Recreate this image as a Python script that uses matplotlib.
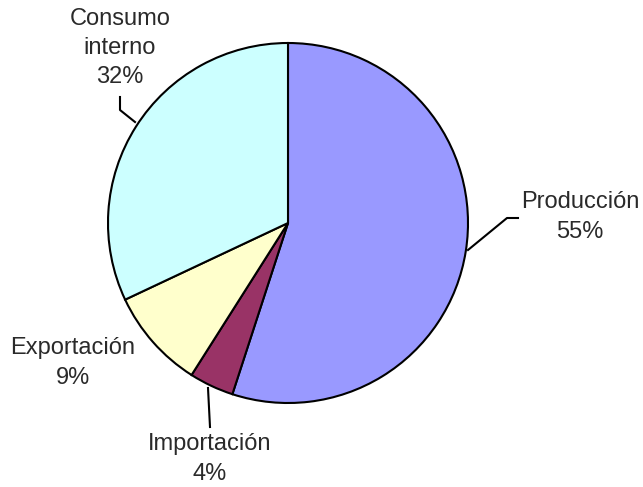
import matplotlib
matplotlib.use("Agg")
import matplotlib.pyplot as plt

labels = ["Producción", "Importación", "Exportación", "Consumo\ninterno"]
values = [55, 4, 9, 32]
colors = ["#9999FF", "#993366", "#FFFFCC", "#CCFFFF"]

W, H = 643, 487
fig = plt.figure(figsize=(W / 100, H / 100), dpi=100)
ax = fig.add_axes([0, 0, 1, 1])

cx, cy, r = 288, H - 223, 180
ax.pie(values, colors=colors, startangle=90, counterclock=False,
       center=(cx, cy), radius=r, frame=True,
       wedgeprops=dict(edgecolor="black", linewidth=1.5))
ax.set_xlim(0, W)
ax.set_ylim(0, H)
ax.set_aspect("equal")
ax.axis("off")

# label positions (pixel coords, y from top) and leader lines
label_pos = [(580, 217), (210, 459), (73, 363), (120, 48)]
leaders = [
    [(468, 250), (507, 218), (518, 218)],
    [(208, 388), (210, 427)],
    None,
    [(135, 122), (120, 110), (120, 97)],
]

for lab, v, (x, y), ld in zip(labels, values, label_pos, leaders):
    ax.text(x, H - y, f"{lab}\n{v}%", ha="center", va="center",
            fontsize=17, family="Liberation Sans", color="#2a2a2a",
            linespacing=1.42)
    if ld:
        xs = [p[0] for p in ld]
        ys = [H - p[1] for p in ld]
        ax.plot(xs, ys, color="black", linewidth=1.5)

fig.savefig("out.png", dpi=100)
